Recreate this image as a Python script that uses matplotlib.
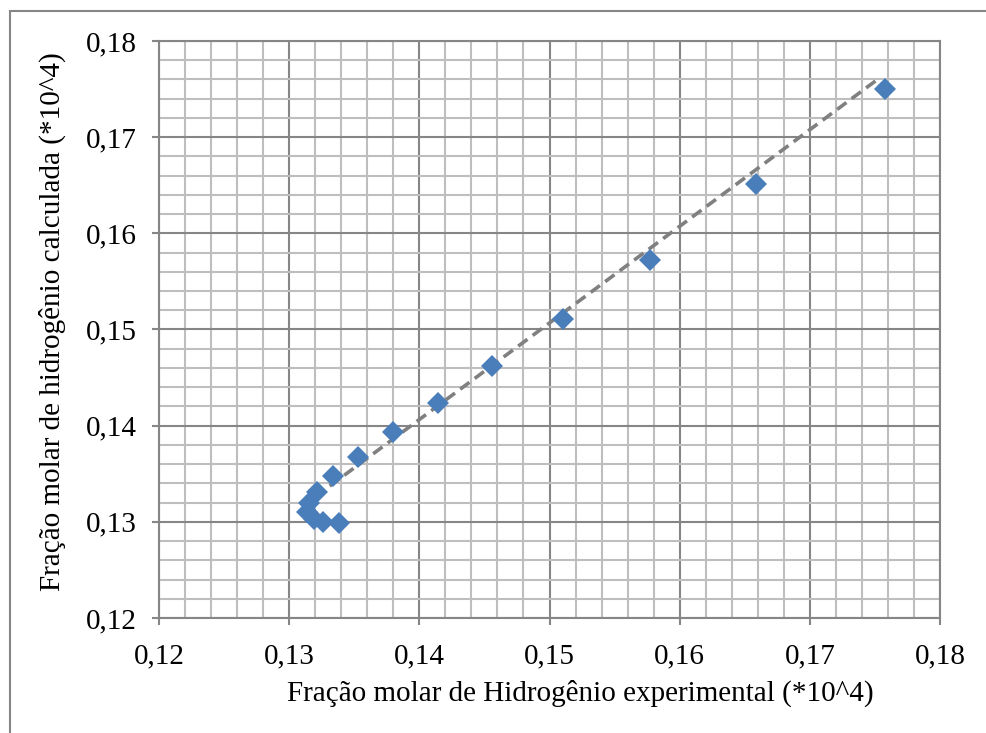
import matplotlib

matplotlib.use("Agg")
import matplotlib.pyplot as plt
import numpy as np
from matplotlib.patches import Rectangle
from matplotlib.ticker import FuncFormatter, MultipleLocator

# valores
x_exp = [0.1758, 0.1659, 0.1577, 0.1510, 0.1456, 0.1414, 0.1380, 0.1353,
         0.1334, 0.1321, 0.1315, 0.1314, 0.1319, 0.1326, 0.1338]
y_calc = [0.1750, 0.1651, 0.1572, 0.1511, 0.1462, 0.1424, 0.1393, 0.1367,
          0.1348, 0.1331, 0.1320, 0.1310, 0.1303, 0.1300, 0.1299]
trend_x = [0.1320, 0.1751]
trend_y = [0.1326, 0.1759]

x_label = "Fração molar de Hidrogênio experimental (*10^4)"
y_label = "Fração molar de hidrogênio calculada (*10^4)"

plt.rcParams["font.family"] = ["Liberation Serif", "DejaVu Serif"]

fig = plt.figure(figsize=(9.86, 7.33), dpi=100)
ax = fig.add_axes([159 / 986, 1 - 618 / 733, (940 - 159) / 986, (618 - 41) / 733])

grid_major = "#868686"
grid_minor = "#BEBEBE"

ax.set_xlim(0.12, 0.18)
ax.set_ylim(0.12, 0.18)
for axis in (ax.xaxis, ax.yaxis):
    axis.set_major_locator(MultipleLocator(0.01))
    axis.set_minor_locator(MultipleLocator(0.002))
    axis.set_major_formatter(FuncFormatter(lambda v, p: f"{v:.2f}".replace(".", ",")))

ax.grid(which="minor", color=grid_minor, linewidth=1.5)
ax.grid(which="major", color=grid_major, linewidth=1.5)
ax.set_axisbelow(True)
for s in ax.spines.values():
    s.set_color(grid_major)
    s.set_linewidth(1.5)

ax.tick_params(which="major", direction="out", length=5, width=1.5, color=grid_major,
               labelsize=21, pad=11)
ax.tick_params(which="minor", length=0)
ax.tick_params(axis="x", pad=13)

ax.plot(trend_x, trend_y, linestyle=(0, (3.2, 1.8)), color="#808080", linewidth=2.6, zorder=3)
ax.plot(x_exp, y_calc, linestyle="none", marker="D", markersize=11,
        color="#4A7EBB", markeredgewidth=0, zorder=4)

ax.set_xlabel(x_label, fontsize=21, labelpad=8)
ax.set_ylabel(y_label, fontsize=21, labelpad=14)
ax.xaxis.label.set_x(0.539)
ax.yaxis.label.set_y(0.513)

fig.patches.append(Rectangle((9.5 / 986, -0.1), 1.2, 1 - 11 / 733 + 0.1,
                             transform=fig.transFigure, fill=False,
                             edgecolor=grid_major, linewidth=1.5))

fig.savefig("out.png", dpi=100)
